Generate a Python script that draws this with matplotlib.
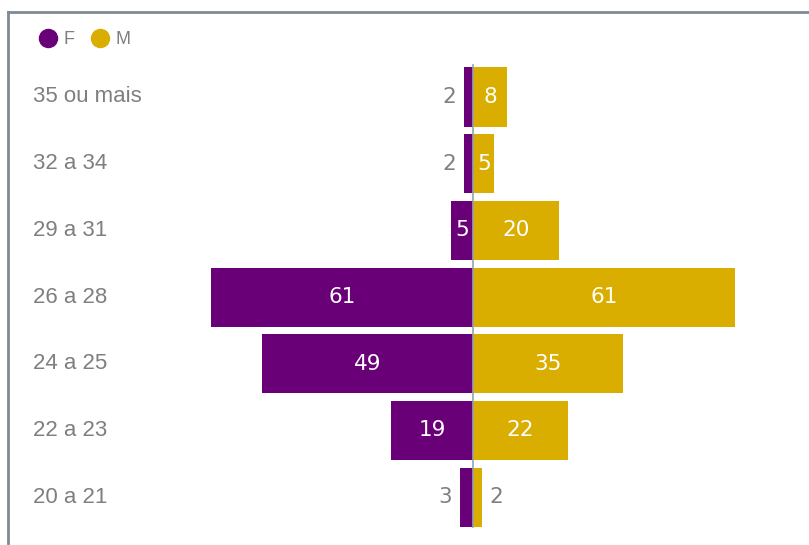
import matplotlib
matplotlib.use("Agg")
import matplotlib.pyplot as plt
from matplotlib.lines import Line2D

categories = ["35 ou mais", "32 a 34", "29 a 31", "26 a 28", "24 a 25", "22 a 23", "20 a 21"]
female = [2, 2, 5, 61, 49, 19, 3]
male = [8, 5, 20, 61, 35, 22, 2]

PURPLE = "#6A0078"
GOLD = "#DAAE00"
GREY = "#7F7F7F"
FONT = "Liberation Sans"
VFONT = "DejaVu Sans"

W, H = 809, 545
fig = plt.figure(figsize=(W / 100, H / 100), dpi=100)

# axes in pixel coords
px_l, px_r, px_t, px_b = 150, 800, 55, 540
ax = fig.add_axes([px_l / W, 1 - px_b / H, (px_r - px_l) / W, (px_b - px_t) / H])
cx, scale = 473, 4.3
ax.set_xlim((px_l - cx) / scale, (px_r - cx) / scale)
row0, step = 97, 66.7
ax.set_ylim((px_b - row0) / step, (px_t - row0) / step)
ax.axis("off")

y = list(range(len(categories)))
bh = 0.885
ax.barh(y, [-v for v in female], height=bh, color=PURPLE, zorder=2)
ax.barh(y, male, height=bh, color=GOLD, zorder=2)
ax.plot([0, 0], [-0.48, 6.45], color="#9AA0A8", lw=1.2, zorder=3)

fs = 15.5
for i, (f, m) in enumerate(zip(female, male)):
    if f >= 5:
        ax.text(-f / 2, i, str(f), color="white", ha="center", va="center",
                fontsize=fs, family=VFONT, zorder=4)
    else:
        ax.text(-f - 1.9, i, str(f), color=GREY, ha="right", va="center",
                fontsize=fs, family=VFONT, zorder=4)
    if m >= 5:
        ax.text(m / 2, i, str(m), color="white", ha="center", va="center",
                fontsize=fs, family=VFONT, zorder=4)
    else:
        ax.text(m + 1.9, i, str(m), color=GREY, ha="left", va="center",
                fontsize=fs, family=VFONT, zorder=4)
    fig.text(33 / W, 1 - (row0 + step * i) / H, categories[i], color=GREY,
             ha="left", va="center", fontsize=16, family=FONT)

handles = [Line2D([], [], marker="o", ls="", color=PURPLE, markersize=13),
           Line2D([], [], marker="o", ls="", color=GOLD, markersize=13)]
fig.legend(handles, ["F", "M"], loc="center left", bbox_to_anchor=(30 / W, 1 - 40 / H),
           ncol=2, frameon=False, handletextpad=0.25, columnspacing=0.8,
           prop={"family": FONT, "size": 13}, labelcolor=GREY, borderaxespad=0,
           handlelength=1.2)

# frame lines (top and left)
fig.add_artist(Line2D([8 / W, 1], [1 - 12 / H, 1 - 12 / H], color="#7F8A96", lw=2))
fig.add_artist(Line2D([8 / W, 8 / W], [1 - 12 / H, 1 - 543 / H], color="#7F8A96", lw=2))

fig.savefig("out.png", dpi=100, facecolor="white")
